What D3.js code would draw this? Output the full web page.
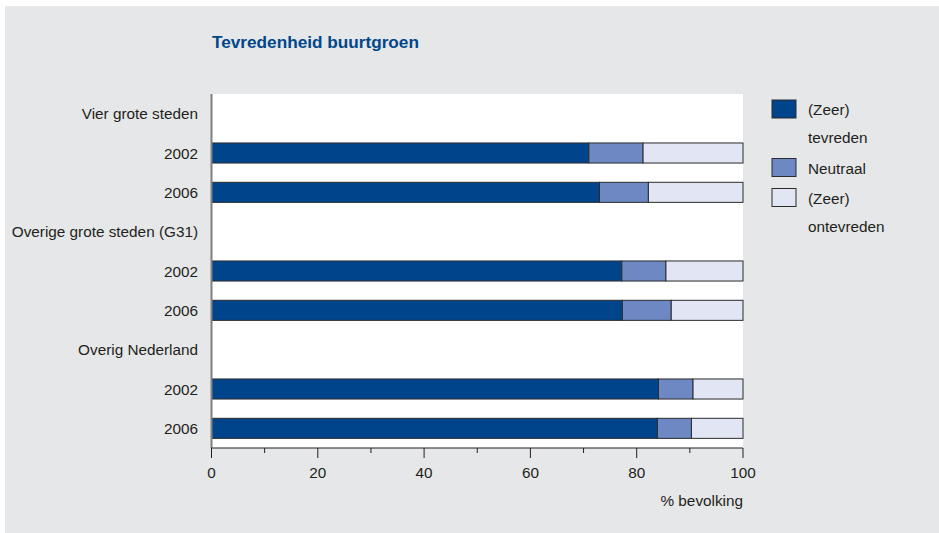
<!DOCTYPE html>
<html><head><meta charset="utf-8">
<script src="https://cdn.jsdelivr.net/npm/d3@7"></script>
<style>
html,body{margin:0;padding:0;background:#fff;}
svg text{font-family:"Liberation Sans Narrow","Arial Narrow","Liberation Sans",Arial,sans-serif;}
</style></head>
<body>
<svg id="c" width="939" height="533"></svg>
<script>
const rows = ["Vier grote steden","2002","2006","Overige grote steden (G31)","2002","2006","Overig Nederland","2002","2006"];
const barRows = [1,2,4,5,7,8];
const tevreden = [71,73,77.2,77.3,84.1,83.9];
const neutraal = [10.2,9.2,8.3,9.2,6.5,6.4];
const ontevreden = [18.8,17.8,14.5,13.5,9.4,9.7];
const seriesNames = ["(Zeer) tevreden","Neutraal","(Zeer) ontevreden"];
const legendLines = [["(Zeer)","tevreden"],["Neutraal"],["(Zeer)","ontevreden"]];
const colors = ["#00458c","#6d88c3","#e1e5f4"];
const xTicks = [0,20,40,60,80,100];
const title = "Tevredenheid buurtgroen";
const xLabel = "% bevolking";

const FS = 15.3;
const svg = d3.select("#c");
svg.append("rect").attr("x",5).attr("y",6).attr("width",934).attr("height",527).attr("fill","#e6e7e8");

const pL=211.5, pR=743, pT=94, pB=448;
const x = d3.scaleLinear().domain([0,100]).range([pL,pR]);
const y = d3.scaleBand().domain(d3.range(rows.length)).range([pT,pB]).paddingInner(0.49).paddingOuter(0.245);

svg.append("rect").attr("x",pL).attr("y",pT).attr("width",pR-pL).attr("height",pB-pT).attr("fill","#fff");

svg.append("text").attr("x",212).attr("y",48).attr("fill","#00468b").attr("font-weight","bold").attr("font-size",17.2).text(title);

// bars
const data = barRows.map((r,i)=>({row:r, vals:[tevreden[i],neutraal[i],ontevreden[i]]}));
const stackData = data.map(d=>{let c=0; return d.vals.map((v,k)=>{const s={row:d.row,k,x0:c,x1:c+v}; c+=v; return s;});}).flat();
svg.append("g").selectAll("rect").data(stackData).join("rect")
  .attr("x",d=>x(d.x0)).attr("width",d=>x(d.x1)-x(d.x0))
  .attr("y",d=>y(d.row)).attr("height",y.bandwidth())
  .attr("fill",d=>colors[d.k]).attr("stroke","#2b2b2b").attr("stroke-width",1);

// category labels
svg.append("g").selectAll("text").data(rows).join("text")
  .attr("x",198).attr("y",(d,i)=>y(i)+y.bandwidth()/2).attr("dy","0.38em")
  .attr("text-anchor","end").attr("font-size",FS).attr("fill","#231f20").text(d=>d);

// left axis line
svg.append("line").attr("x1",pL).attr("x2",pL).attr("y1",pT).attr("y2",pB).attr("stroke","#808080").attr("stroke-width",2);

// x axis
const ax = svg.append("g").attr("transform",`translate(0,${pB})`);
ax.append("line").attr("x1",pL).attr("x2",pR).attr("y1",0).attr("y2",0).attr("stroke","#231f20").attr("stroke-width",1.2);
const minor = d3.range(10,100,20);
ax.selectAll("line.mi").data(minor).join("line").attr("class","mi").attr("x1",d=>x(d)).attr("x2",d=>x(d)).attr("y1",0).attr("y2",5).attr("stroke","#231f20");
ax.selectAll("line.ma").data(xTicks).join("line").attr("class","ma").attr("x1",d=>x(d)).attr("x2",d=>x(d)).attr("y1",0).attr("y2",10).attr("stroke","#231f20");
ax.selectAll("text").data(xTicks).join("text").attr("x",d=>x(d)).attr("y",29.5).attr("text-anchor","middle").attr("font-size",FS).attr("fill","#231f20").text(d=>d);
svg.append("text").attr("x",743).attr("y",506).attr("text-anchor","end").attr("font-size",FS).attr("fill","#231f20").text(xLabel);

// legend
const legY = [100,158.5,188.5];
const lg = svg.append("g");
seriesNames.forEach((n,i)=>{
  lg.append("rect").attr("x",772).attr("y",legY[i]).attr("width",24).attr("height",18).attr("fill",colors[i]).attr("stroke","#2b2b2b").attr("stroke-width",1);
  legendLines[i].forEach((t,j)=>{
    lg.append("text").attr("x",808).attr("y",legY[i]+15+j*28).attr("font-size",FS).attr("fill","#231f20").text(t);
  });
});
</script>
</body></html>
